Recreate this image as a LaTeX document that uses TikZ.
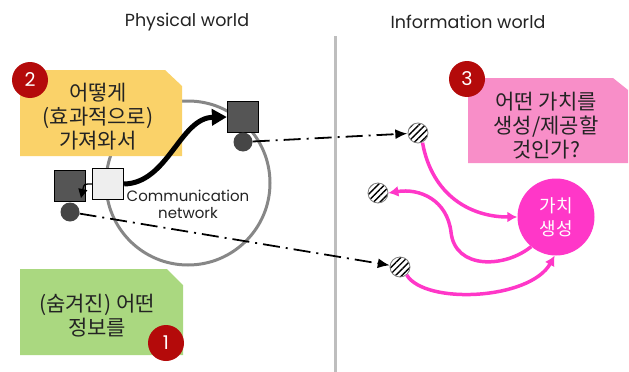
\documentclass[tikz,border=0pt]{standalone}
\usepackage{fontspec}
\setmainfont{Poppins}
\newfontfamily\kr{Noto Sans CJK KR}
\usetikzlibrary{arrows.meta,patterns.meta}
\definecolor{noteyellow}{RGB}{250,210,105}
\definecolor{notepink}{RGB}{248,142,200}
\definecolor{notegreen}{RGB}{170,216,128}
\definecolor{badgered}{RGB}{180,10,10}
\definecolor{valuemag}{RGB}{255,55,200}
\definecolor{divider}{RGB}{190,190,190}
\definecolor{netgray}{RGB}{135,135,135}
\definecolor{devdark}{RGB}{85,85,85}
\definecolor{portdark}{RGB}{70,70,70}
\definecolor{devlight}{RGB}{238,238,238}
\definecolor{inkgray}{RGB}{35,35,35}

\begin{document}
\begin{tikzpicture}[x=1pt,y=-1pt,
  badge/.style={circle,fill=badgered,text=white,minimum size=36pt,inner sep=0pt,
    font=\fontsize{19}{19}\selectfont},
  device/.style={draw=black,line width=1.3pt,minimum size=31pt,inner sep=0pt},
  port/.style={circle,fill=portdark,minimum size=19pt,inner sep=0pt},
  hatched/.style={circle,draw=gray,line width=0.8pt,minimum size=20pt,inner sep=0pt,
    pattern={Lines[angle=45,distance=4.5pt,line width=1.4pt]}},
  notetext/.style={align=center,text=inkgray,font=\kr\fontsize{21}{24}\selectfont},
  worldtitle/.style={text=inkgray,font=\fontsize{17.5}{17.5}\selectfont},
  dashlink/.style={line width=1.8pt,dash pattern=on 17pt off 6pt on 2pt off 6pt,
    -{Latex[length=12pt,width=10pt]}},
  flow/.style={valuemag,line width=3.5pt,-{Latex[length=10pt,width=11pt]}},
]
\useasboundingbox (0,0) rectangle (629,372);

% column titles and divider
\node[worldtitle] (phys) at (187,22) {Physical world};
\node[worldtitle] (info) at (468,22) {Information world};
\draw[divider,line width=3pt] (335,36) -- (335,372);

% communication network
\draw[netgray,line width=3pt] (188,183) circle[radius=82];
\node[align=center,text=inkgray,font=\fontsize{15}{17}\selectfont] (net) at (188,204)
  {Communication\\network};

% note 2 (yellow)
\fill[noteyellow] (20,70) -- (165,70) -- (182,86) -- (182,156) -- (20,156) -- cycle;
\node[notetext] (howtext) at (98,117) {어떻게\\(효과적으로)\\가져와서};
\node[badge] (b2) at (30,80) {2};

% devices
\node[device,fill=devdark] (devA) at (243,117) {};
\node[port] (portA) at (243,142) {};
\node[device,fill=devdark] (devB) at (70,186) {};
\node[device,fill=devlight] (devC) at (108,184) {};
\node[port] (portB) at (70,212) {};

\draw[line width=1.3pt,-{Triangle[length=9pt,width=9pt]}]
  (devC.west) .. controls (84,184) .. (81,198);
\draw[line width=5pt,-{Triangle[length=15pt,width=16pt]}]
  (devC.east) .. controls (168,183) and (180,118) .. (devA.west);

% note 1 (green)
\fill[notegreen] (20,269) -- (167,269) -- (183,285) -- (183,355) -- (20,355) -- cycle;
\node[notetext] (whattext) at (97,316) {(숨겨진) 어떤\\정보를};
\node[badge] (b1) at (166,343) {1};

% information-side points
\node[hatched] (h1) at (418,133) {};
\node[hatched] (h2) at (378,193) {};
\node[hatched] (h3) at (400,267) {};

\draw[dashlink] (portA) -- (h1);
\draw[dashlink] (portB) -- (h3);

% note 3 (pink)
\fill[notepink] (468,78) -- (613,78) -- (628,90) -- (628,163) -- (468,163) -- cycle;
\node[notetext] (valtext) at (546,126) {어떤 가치를\\생성/제공할\\것인가?};
\node[badge] (b3) at (467,79) {3};

% value creation
\node[circle,fill=valuemag,minimum size=77pt,inner sep=0pt,align=center,text=white,
  font=\kr\fontsize{18}{23}\selectfont] (val) at (556,217) {가치\\생성};

\draw[flow] (h1.-65) .. controls (432,195) and (470,217) .. (val.west);
\draw[flow] (val.-130) .. controls (505,268) and (455,270) .. (451,232)
  .. controls (447,200) and (420,188) .. (h2.east);
\draw[flow] (h3.-50) .. controls (425,305) and (530,300) .. (val.-92);
\end{tikzpicture}
\end{document}
